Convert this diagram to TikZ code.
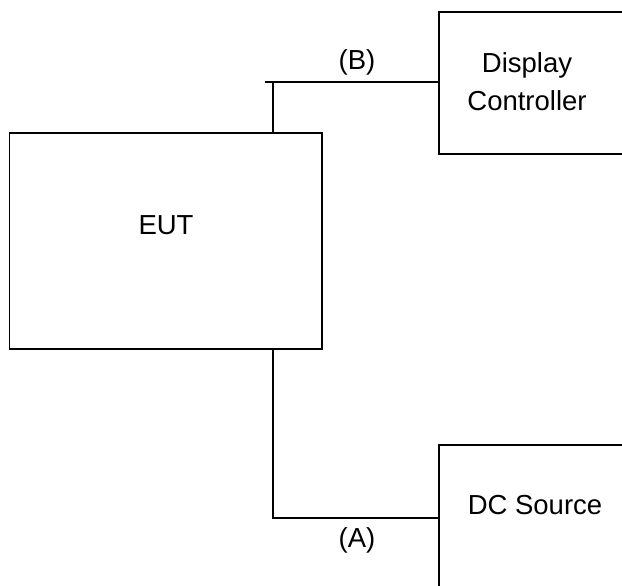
\documentclass[tikz,border=0pt]{standalone}
\usepackage{fontspec}
\setmainfont{Liberation Sans}
\begin{document}
\begin{tikzpicture}[x=1pt,y=-1pt,
  wire/.style={line width=1.8pt},
  lbl/.style={inner sep=0pt,font=\fontsize{27.5}{38}\selectfont,align=center}]
\useasboundingbox (0,0) rectangle (622,586);
\begin{scope}
\clip (0,0) rectangle (622,586);
% EUT box
\draw[wire] (9.5,133) rectangle (322,349);
\node[lbl] (eut) at (166,225) {EUT};
% Display controller (extends beyond right edge)
\draw[wire] (640,12) -- (439,12) -- (439,154) -- (640,154);
\node[lbl] (disp) at (527,82) {Display\\Controller};
% DC source (extends beyond right and bottom edges)
\draw[wire] (640,445) -- (439,445) -- (439,600);
\node[lbl] (dc) at (535,505) {DC Source};
\coordinate (dcin) at (439,518);
\coordinate (dispin) at (439,82);
% connectors
\coordinate (eutbot) at (272.7,349);
\coordinate (euttop) at (272.7,133);
\coordinate (bcorner) at (272.7,82);
\coordinate (bstub) at (265,82);
\coordinate (acorner) at (272.7,518);
\draw[wire] (euttop) -- (bcorner);
\draw[wire] (bstub) -- (dispin);
\draw[wire] (eutbot) -- (acorner) -- (dcin);
\node[lbl] (lb) at (357,62) {(B)};
\node[lbl] (la) at (357,540) {(A)};
\end{scope}
\end{tikzpicture}
\end{document}
